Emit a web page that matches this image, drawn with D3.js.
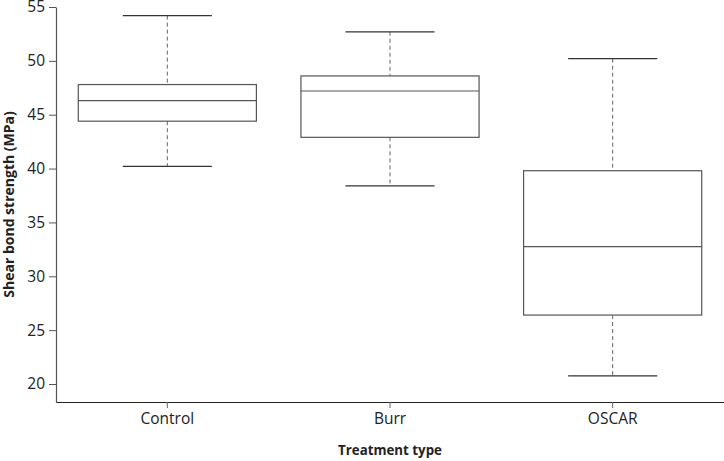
<!DOCTYPE html>
<html>
<head>
<meta charset="utf-8">
<script src="https://cdn.jsdelivr.net/npm/d3@7"></script>
<style>
  body { margin: 0; background: #fff; }
  text { font-family: "Open Sans", "Noto Sans", sans-serif; fill: #222; }
</style>
</head>
<body>
<script>
var w = 724;
var h = 461;

// data
var groups = ["Control", "Burr", "OSCAR"];
var lowWhisker = [40.2, 38.4, 20.75];
var q1 = [44.4, 42.9, 26.4];
var median = [46.3, 47.2, 32.75];
var q3 = [47.8, 48.6, 39.8];
var highWhisker = [54.2, 52.7, 50.2];
var yTicks = [20, 25, 30, 35, 40, 45, 50, 55];

// plot edges (note: "top" is taken by window.top)
var plotLeft = 56, plotRight = 724, plotTop = 7, plotBottom = 402;

var svg = d3.select("body").append("svg")
            .attr("width", w)
            .attr("height", h);

var x = d3.scaleBand()
          .domain(groups)
          .range([plotLeft, plotRight])
          .paddingInner(0.2)
          .paddingOuter(0.1);

var y = d3.scaleLinear()
          .domain([18.33, 55])
          .range([plotBottom, plotTop]);

// Axes
var yAxis = svg.append("g")
               .attr("transform", "translate(" + plotLeft + ",0)")
               .call(d3.axisLeft(y).tickValues(yTicks).tickSize(7).tickSizeOuter(0).tickPadding(4));
yAxis.select(".domain").attr("stroke", "#555").attr("stroke-width", 1.2);
yAxis.selectAll(".tick line").attr("stroke", "#555");
yAxis.selectAll(".tick text").style("font-size", "15.5px").attr("fill", "#2a2a2a");

var xAxis = svg.append("g")
               .attr("transform", "translate(0," + plotBottom + ")")
               .call(d3.axisBottom(x).tickSize(6).tickSizeOuter(0).tickPadding(5));
xAxis.select(".domain").attr("stroke", "#222").attr("stroke-width", 1.2);
xAxis.selectAll(".tick line").attr("stroke", "#666");
xAxis.selectAll(".tick text").style("font-size", "15.5px").attr("fill", "#2a2a2a");

// Boxes
var boxes = svg.selectAll(".box")
               .data(groups)
               .enter().append("g")
               .attr("class", "box");

var cx = function(d) { return x(d) + x.bandwidth() / 2; };
var capHalf = x.bandwidth() / 4;

// whiskers (dashed)
boxes.append("line")
     .attr("x1", cx).attr("x2", cx)
     .attr("y1", function(d, i) { return y(highWhisker[i]); })
     .attr("y2", function(d, i) { return y(q3[i]); })
     .attr("stroke", "#666").attr("stroke-dasharray", "4,3");
boxes.append("line")
     .attr("x1", cx).attr("x2", cx)
     .attr("y1", function(d, i) { return y(q1[i]); })
     .attr("y2", function(d, i) { return y(lowWhisker[i]); })
     .attr("stroke", "#666").attr("stroke-dasharray", "4,3");

// caps
boxes.append("line")
     .attr("x1", function(d) { return cx(d) - capHalf; })
     .attr("x2", function(d) { return cx(d) + capHalf; })
     .attr("y1", function(d, i) { return y(highWhisker[i]); })
     .attr("y2", function(d, i) { return y(highWhisker[i]); })
     .attr("stroke", "#333").attr("stroke-width", 1.2);
boxes.append("line")
     .attr("x1", function(d) { return cx(d) - capHalf; })
     .attr("x2", function(d) { return cx(d) + capHalf; })
     .attr("y1", function(d, i) { return y(lowWhisker[i]); })
     .attr("y2", function(d, i) { return y(lowWhisker[i]); })
     .attr("stroke", "#333").attr("stroke-width", 1.2);

// box
boxes.append("rect")
     .attr("x", function(d) { return x(d); })
     .attr("width", x.bandwidth())
     .attr("y", function(d, i) { return y(q3[i]); })
     .attr("height", function(d, i) { return y(q1[i]) - y(q3[i]); })
     .attr("fill", "#fff")
     .attr("stroke", "#555").attr("stroke-width", 1.2);

// median
boxes.append("line")
     .attr("x1", function(d) { return x(d); })
     .attr("x2", function(d) { return x(d) + x.bandwidth(); })
     .attr("y1", function(d, i) { return y(median[i]); })
     .attr("y2", function(d, i) { return y(median[i]); })
     .attr("stroke", "#555").attr("stroke-width", 1.2);

// Axis titles
svg.append("text")
   .attr("x", (plotLeft + plotRight) / 2)
   .attr("y", 455)
   .attr("text-anchor", "middle")
   .style("font-size", "13.3px")
   .style("font-weight", "bold")
   .text("Treatment type");

svg.append("text")
   .attr("transform", "translate(14," + (plotTop + plotBottom) / 2 + ") rotate(-90)")
   .attr("text-anchor", "middle")
   .style("font-size", "14px")
   .style("font-weight", "bold")
   .text("Shear bond strength (MPa)");
</script>
</body>
</html>
